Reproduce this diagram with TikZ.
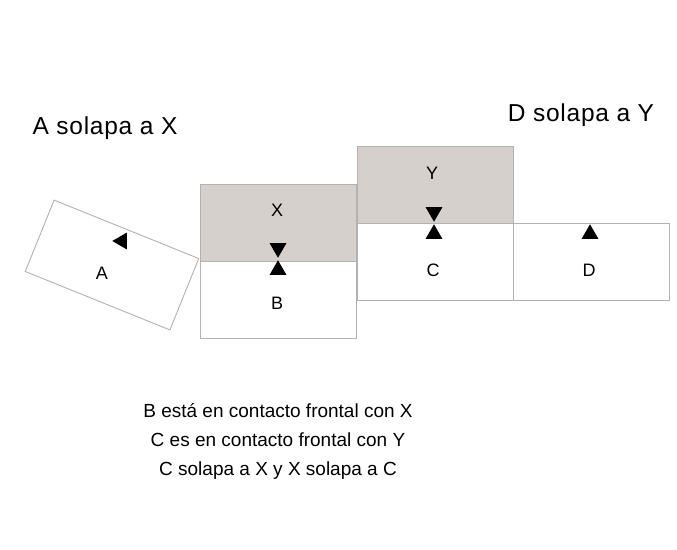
\documentclass[tikz,border=0pt]{standalone}
\usepackage{fontspec}
\setmainfont{Liberation Sans}
\usetikzlibrary{calc,positioning,shapes.geometric}
\definecolor{boxgrey}{RGB}{214,208,204}
\definecolor{edgegrey}{RGB}{178,178,178}

\begin{document}
\begin{tikzpicture}[x=1pt,y=-1pt]

\tikzset{piece/.style={draw=edgegrey,line width=0.9pt,fill=white,minimum width=156pt,minimum height=77pt,inner sep=0pt,shape=rectangle},
greypiece/.style={piece,fill=boxgrey},
letter/.style={font=\fontsize{18}{18}\selectfont},
caption/.style={font=\fontsize{24.5}{24.5}\selectfont\addfontfeature{LetterSpace=3},inner sep=0pt},
front/.style={regular polygon,regular polygon sides=3,fill=black,inner sep=0pt,minimum size=19.5pt},
back/.style={front,shape border rotate=180}}

\useasboundingbox (0,0) rectangle (677,549);

% Pieces
\node[piece,rotate=-22] (A) at (112,265) {};
\node[greypiece] (X) at (278.5,222.5) {};
\node[piece,below=0pt of X] (B) {};
\node[greypiece] (Y) at (435,184.5) {};
\node[piece,below=0pt of Y] (C) {};
\node[piece,right=0pt of C] (D) {};

% Letters
\node[letter] (la) at (102,273) {A};
\node[letter] (lx) at (277,210) {X};
\node[letter] (lb) at (277,303) {B};
\node[letter] (ly) at (432,173) {Y};
\node[letter] (lc) at (433,270) {C};
\node[letter] (ld) at (589,270) {D};

% Front marks
\node[front,shape border rotate=90] (fa) at (122,241) {};
\node[back] (fx) at (278,248) {};
\node[front] (fb) at (278,270) {};
\node[back] (fy) at (434,212) {};
\node[front] (fc) at (434,234) {};
\node[front] (fd) at (590,234) {};

% Captions
\node[caption] (overA) at (105,128) {A solapa a X};
\node[caption] (overD) at (581,115) {D solapa a Y};
\node[align=center,font=\fontsize{19}{29}\selectfont] (notes) at (278,441) {B está en contacto frontal con X\\C es en contacto frontal con Y\\C solapa a X y X solapa a C};

\end{tikzpicture}
\end{document}
